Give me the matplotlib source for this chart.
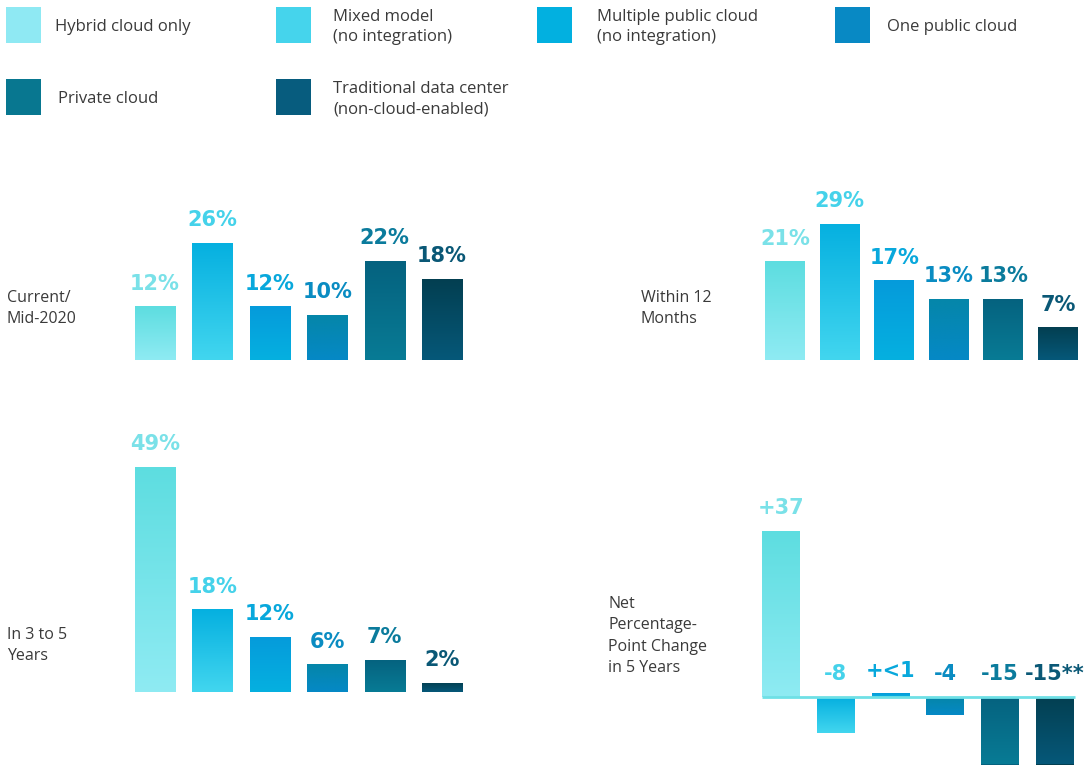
import numpy as np
import matplotlib
matplotlib.use("Agg")
import matplotlib.pyplot as plt
from matplotlib.colors import LinearSegmentedColormap
from matplotlib.patches import Rectangle

# ---- data -------------------------------------------------------------
categories = [
    "Hybrid cloud only",
    "Mixed model\n(no integration)",
    "Multiple public cloud\n(no integration)",
    "One public cloud",
    "Private cloud",
    "Traditional data center\n(non-cloud-enabled)",
]
current_2020 = [12, 26, 12, 10, 22, 18]
within_12_months = [21, 29, 17, 13, 13, 7]
in_3_to_5_years = [49, 18, 12, 6, 7, 2]
net_change = [37, -8, 0.8, -4, -15, -15]
net_change_labels = ["+37", "-8", "+<1", "-4", "-15", "-15**"]

panel_titles = [
    "Current/\nMid-2020",
    "Within 12\nMonths",
    "In 3 to 5\nYears",
    "Net\nPercentage-\nPoint Change\nin 5 Years",
]

# ---- styling ----------------------------------------------------------
legend_colors = ["#8fe9f3", "#45d4ec", "#02b0e0", "#0889c4", "#087790", "#075c7e"]
grad_top = ["#5ddde0", "#05b0e0", "#069bdb", "#0586a9", "#05627f", "#033f51"]
grad_bottom = ["#8febf3", "#42d6ef", "#05b0e0", "#0589c6", "#087b95", "#065879"]
label_colors = ["#7ae1e8", "#45d2ea", "#08a8dc", "#0a8cc2", "#0b7b9c", "#0a5876"]
text_color = "#3a3a3a"
text_font = ["Open Sans", "DejaVu Sans"]
num_font = ["DejaVu Sans"]

W, H = 1092, 780
fig = plt.figure(figsize=(W / 100, H / 100), dpi=100)
fig.patch.set_facecolor("white")


def fx(px):
    return px / W


def fy(py):
    return 1 - py / H


def add_axes_px(left, top, right, bottom):
    ax = fig.add_axes([fx(left), fy(bottom), fx(right - left), (bottom - top) / H])
    ax.set_axis_off()
    return ax


def gradient_bars(ax, values, labels, width, ylim):
    x = np.arange(len(values))
    bars = ax.bar(x, values, width=width, color=grad_top, linewidth=0, zorder=2)
    grad = np.linspace(0, 1, 256).reshape(-1, 1)
    for i, patch in enumerate(bars.patches):
        x0 = patch.get_x()
        x1 = x0 + patch.get_width()
        y0 = min(patch.get_y(), patch.get_y() + patch.get_height())
        y1 = max(patch.get_y(), patch.get_y() + patch.get_height())
        cmap = LinearSegmentedColormap.from_list(
            f"g{i}", [grad_bottom[i], grad_top[i]])
        im = ax.imshow(grad, extent=[x0, x1, y0, y1], origin="lower",
                       cmap=cmap, aspect="auto", zorder=3,
                       interpolation="bilinear")
        im.set_clip_path(patch)
        top = max(values[i], 0)
        ax.annotate(labels[i], xy=(x[i], top), xytext=(0, 9),
                    textcoords="offset points", ha="center", va="bottom",
                    fontsize=15, fontweight="bold", family=num_font,
                    color=label_colors[i], zorder=4)
    ax.set_xlim(-0.5, len(values) - 0.5)
    ax.set_ylim(*ylim)
    return bars


# Current / Mid-2020
s1 = 4.5
ax1 = add_axes_px(126.3, 360 - 40 * s1, 470.7, 360)
gradient_bars(ax1, current_2020, [f"{v}%" for v in current_2020], 0.70, (0, 40))

# Within 12 months
s2 = 4.7
ax2 = add_axes_px(757.7, 360 - 40 * s2, 1085.3, 360)
gradient_bars(ax2, within_12_months, [f"{v}%" for v in within_12_months], 0.73, (0, 40))

# In 3 to 5 years
s3 = 4.6
ax3 = add_axes_px(126.3, 692 - 55 * s3, 470.7, 692)
gradient_bars(ax3, in_3_to_5_years, [f"{v}%" for v in in_3_to_5_years], 0.70, (0, 55))

# Net change in 5 years
s4 = 4.5
ax4 = add_axes_px(753.6, 697 - 40 * s4, 1082.4, 697 + 18 * s4)
gradient_bars(ax4, net_change, net_change_labels, 0.69, (-18, 40))
# move labels of negative bars above the zero line
for t, v in zip(ax4.texts, net_change):
    if v < 0:
        t.xy = (t.xy[0], 0)
ax4.hlines(0, -0.5 + 0.155, len(net_change) - 0.5 - 0.13, color="#6fe0e6",
           linewidth=2, zorder=5)

# Panel titles
title_pos = [(7, 308.5), (641, 308.5), (7, 645.5), (608, 636)]
for (px, py), title in zip(title_pos, panel_titles):
    fig.text(fx(px), fy(py), title, ha="left", va="center", fontsize=11.5,
             family=text_font, color=text_color, linespacing=1.42)

# Legend
legend_pos = [(6, 25), (276, 25), (537, 25), (835, 25), (6, 97), (276, 97)]
text_dx = [49, 57, 60, 52, 52, 57]
for i, ((px, py), name) in enumerate(zip(legend_pos, categories)):
    fig.patches.append(Rectangle((fx(px), fy(py + 18)), fx(35), 36 / H,
                                 transform=fig.transFigure,
                                 facecolor=legend_colors[i], edgecolor="none"))
    fig.text(fx(px + text_dx[i]), fy(py + 2), name, ha="left", va="center",
             fontsize=12, family=text_font, color=text_color,
             linespacing=1.38)

fig.savefig("out.png", dpi=100, facecolor="white")
